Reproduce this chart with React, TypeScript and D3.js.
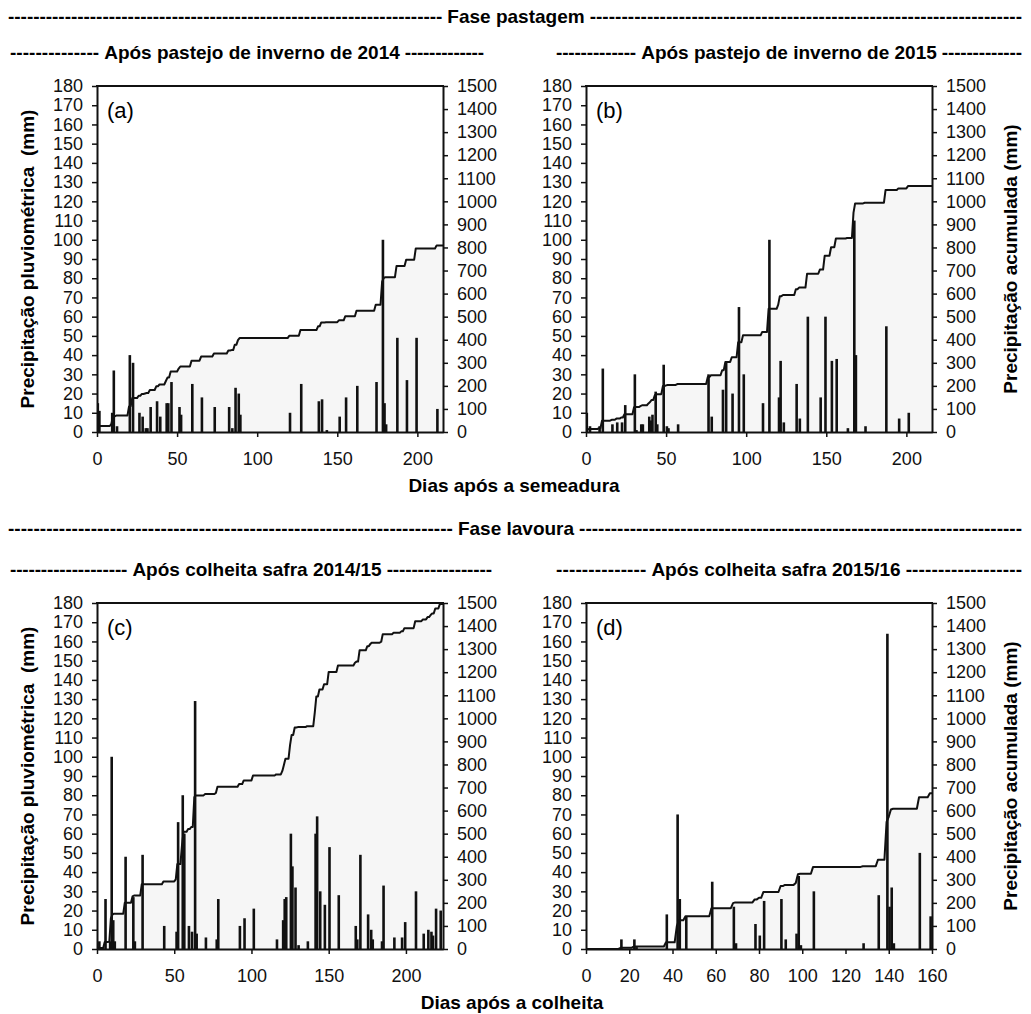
import React, { useEffect, useRef } from "react";
import * as d3 from "d3";

// Daily rainfall events [day, mm] for each period
const rainA: [number, number][] = [
  [0, 15], [1, 11], [9, 10], [10, 32], [12, 3], [20, 40], [22, 36], [26, 10], [28, 8], [30, 2],
  [31, 2], [33, 13], [37, 16], [39, 8], [43, 15], [44, 15], [46, 26], [51, 13], [52, 9], [59, 25],
  [65, 18], [73, 13], [82, 13], [84, 2], [86, 23], [88, 20], [89, 9], [120, 10], [127, 25], [138, 16],
  [140, 17], [143, 1], [151, 8], [155, 18], [162, 24], [174, 26], [178, 100], [179, 15], [180, 4],
  [187, 49], [193, 27], [199, 49], [212, 12],
];

const rainB: [number, number][] = [
  [0, 10], [2, 3], [8, 3], [10, 33], [16, 4], [19, 5], [22, 5], [24, 14], [30, 30], [31, 1],
  [34, 4], [35, 4], [39, 8], [40, 6], [41, 9], [43, 21], [44, 4], [48, 35], [50, 3], [51, 2],
  [57, 4], [76, 30], [78, 8], [85, 22], [87, 36], [91, 20], [95, 65], [98, 30], [110, 15], [114, 100],
  [120, 18], [121, 37], [123, 5], [131, 25], [133, 7], [138, 60], [146, 18], [149, 60], [153, 37],
  [156, 38], [163, 2], [167, 110], [168, 40], [174, 3], [187, 55], [195, 7], [201, 10],
];

const rainC: [number, number][] = [
  [1, 4], [5, 26], [8, 4], [9, 100], [10, 15], [11, 4], [18, 48], [23, 27], [24, 4], [29, 49],
  [43, 12], [51, 9], [52, 66], [55, 80], [56, 60], [59, 12], [61, 9], [63, 129], [64, 8], [70, 6],
  [77, 5], [78, 26], [92, 12], [95, 16], [101, 21], [116, 5], [120, 15], [121, 26], [122, 27],
  [125, 60], [126, 43], [128, 32], [130, 2], [136, 4], [141, 60], [142, 69], [144, 30], [147, 23],
  [150, 53], [156, 28], [167, 12], [168, 5], [170, 49], [175, 18], [177, 10], [178, 5], [184, 4],
  [185, 33], [192, 6], [197, 6], [199, 14], [206, 30], [211, 8], [214, 10], [216, 9], [217, 7],
  [219, 21], [222, 20],
];

const rainD: [number, number][] = [
  [16, 5], [22, 5], [23, 1], [37, 18], [42, 70], [43, 26], [46, 17], [58, 35], [68, 22], [69, 3],
  [78, 13], [80, 7], [82, 25], [90, 26], [92, 5], [97, 8], [98, 38], [99, 2], [105, 30], [128, 3],
  [135, 28], [139, 164], [140, 22], [141, 32], [142, 3], [154, 50], [159, 17],
];

const leftTicks = d3.range(0, 181, 10);
const rightTicks = d3.range(0, 1501, 100);
const ticksLong = [0, 50, 100, 150, 200];
const ticksShort = [0, 20, 40, 60, 80, 100, 120, 140, 160];

const panelLetters = ["(a)", "(b)", "(c)", "(d)"];
const panelTitles = [
  "Após pastejo de inverno de 2014",
  "Após pastejo de inverno de 2015",
  "Após colheita safra 2014/15",
  "Após colheita safra 2015/16",
];
const phaseTitles = ["Fase pastagem", "Fase lavoura"];
const xTitles = ["Dias após a semeadura", "Dias após a colheita"];
const yLeftTitle = "Precipitação pluviométrica  (mm)";
const yRightTitle = "Precipitação acumulada (mm)";

const W = 1031;
const H = 1014;
const PW = 346;
const PH = 346;
const FONT = "'Liberation Sans', Arial, Helvetica, sans-serif";
const fmt = d3.format("d");

type Panel = {
  rain: [number, number][];
  xMax: number;
  xTicks: number[];
  x0: number;
  y0: number;
  letter: string;
  title: string;
  titleCx: number;
  span: [number, number];
  leftTitle: boolean;
  rightTitle: boolean;
};

const panels: Panel[] = [
  { rain: rainA, xMax: 216, xTicks: ticksLong, x0: 97, y0: 86, letter: panelLetters[0], title: panelTitles[0], titleCx: 252, span: [10, 484], leftTitle: true, rightTitle: false },
  { rain: rainB, xMax: 216, xTicks: ticksLong, x0: 586, y0: 86, letter: panelLetters[1], title: panelTitles[1], titleCx: 789, span: [556, 1022], leftTitle: false, rightTitle: true },
  { rain: rainC, xMax: 224, xTicks: ticksLong, x0: 97, y0: 603, letter: panelLetters[2], title: panelTitles[2], titleCx: 257, span: [10, 492], leftTitle: true, rightTitle: false },
  { rain: rainD, xMax: 160, xTicks: ticksShort, x0: 586, y0: 603, letter: panelLetters[3], title: panelTitles[3], titleCx: 776, span: [556, 1022], leftTitle: false, rightTitle: true },
];

function dashedTitle(
  g: d3.Selection<SVGGElement, unknown, null, undefined>,
  text: string,
  cx: number,
  y: number,
  x1: number,
  x2: number,
  size: number
) {
  const t = g
    .append("text")
    .attr("x", cx)
    .attr("y", y)
    .attr("text-anchor", "middle")
    .attr("font-weight", "bold")
    .attr("font-size", size)
    .text(text);
  const w = (t.node() as SVGTextElement).getComputedTextLength();
  const probe = g.append("text").attr("font-weight", "bold").attr("font-size", size).text("-");
  const hw = (probe.node() as SVGTextElement).getComputedTextLength();
  probe.remove();
  const gap = 5;
  const spans: [number, number][] = [
    [x1, cx - w / 2 - gap],
    [cx + w / 2 + gap, x2],
  ];
  spans.forEach(([a, b]) => {
    const len = b - a;
    if (len <= hw) return;
    const n = Math.max(1, Math.round(len / hw));
    g.append("text")
      .attr("x", a)
      .attr("y", y)
      .attr("font-weight", "bold")
      .attr("font-size", size)
      .attr("textLength", len)
      .attr("lengthAdjust", "spacing")
      .text("-".repeat(n));
  });
}

export default function App() {
  const ref = useRef<SVGSVGElement | null>(null);

  useEffect(() => {
    const svg = d3.select(ref.current as SVGSVGElement);
    svg.selectAll("*").remove();
    const root = svg.append("g").attr("font-family", FONT).attr("fill", "#000");

    // phase headers
    dashedTitle(root, phaseTitles[0], 516, 23, 8, 1022, 19);
    dashedTitle(root, phaseTitles[1], 516, 535, 8, 1022, 19);

    panels.forEach((p, i) => {
      const g = root.append("g");
      const x = d3.scaleLinear().domain([0, p.xMax]).range([p.x0, p.x0 + PW]);
      const yL = d3.scaleLinear().domain([0, 180]).range([p.y0 + PH, p.y0]);
      const yR = d3.scaleLinear().domain([0, 1500]).range([p.y0 + PH, p.y0]);

      // daily series and accumulated rainfall
      const days = d3.range(0, p.xMax + 1);
      const byDay = new Map(p.rain);
      const daily = days.map((d) => byDay.get(d) ?? 0);
      const cum = Array.from(d3.cumsum(daily));

      const clipId = `clip-${i}`;
      g.append("clipPath")
        .attr("id", clipId)
        .append("rect")
        .attr("x", p.x0)
        .attr("y", p.y0)
        .attr("width", PW)
        .attr("height", PH);

      const plot = g.append("g").attr("clip-path", `url(#${clipId})`);

      const area = d3
        .area<number>()
        .x((_, k) => x(days[k]))
        .y0(yR(0))
        .y1((v) => yR(Math.min(v, 1500)));
      const line = d3
        .line<number>()
        .x((_, k) => x(days[k]))
        .y((v) => yR(Math.min(v, 1500)));

      plot.append("path").attr("d", area(cum) as string).attr("fill", "#f6f6f6");

      const bw = 2.6;
      plot
        .selectAll("rect.bar")
        .data(p.rain)
        .join("rect")
        .attr("class", "bar")
        .attr("x", (d) => x(d[0]) - bw / 2 + 0.8)
        .attr("width", bw)
        .attr("y", (d) => yL(d[1]))
        .attr("height", (d) => yL(0) - yL(d[1]))
        .attr("fill", "#111");

      plot
        .append("path")
        .attr("d", line(cum) as string)
        .attr("fill", "none")
        .attr("stroke", "#111")
        .attr("stroke-width", 2)
        .attr("stroke-linejoin", "round");

      // axes
      const styleAxis = (a: d3.Selection<SVGGElement, unknown, null, undefined>) => {
        a.select(".domain").attr("stroke", "#111").attr("stroke-width", 2);
        a.selectAll(".tick line").attr("stroke", "#111").attr("stroke-width", 1.5);
        a.selectAll(".tick text").attr("font-size", 18).attr("fill", "#111").attr("font-family", FONT);
      };

      const gl = g
        .append("g")
        .attr("transform", `translate(${p.x0},0)`)
        .call(d3.axisLeft(yL).tickValues(leftTicks).tickFormat(fmt).tickSize(5).tickSizeOuter(0).tickPadding(9));
      styleAxis(gl);

      const gr = g
        .append("g")
        .attr("transform", `translate(${p.x0 + PW},0)`)
        .call(d3.axisRight(yR).tickValues(rightTicks).tickFormat(fmt).tickSize(5).tickSizeOuter(0).tickPadding(9));
      styleAxis(gr);

      const gb = g
        .append("g")
        .attr("transform", `translate(0,${p.y0 + PH})`)
        .call(d3.axisBottom(x).tickValues(p.xTicks).tickFormat(fmt).tickSize(5).tickSizeOuter(0).tickPadding(15));
      styleAxis(gb);

      g.append("line")
        .attr("x1", p.x0 - 1)
        .attr("x2", p.x0 + PW + 1)
        .attr("y1", p.y0)
        .attr("y2", p.y0)
        .attr("stroke", "#111")
        .attr("stroke-width", 2);

      // panel letter
      g.append("text")
        .attr("x", p.x0 + 10)
        .attr("y", p.y0 + 32)
        .attr("font-size", 22)
        .text(p.letter);

      // panel title with dashes
      dashedTitle(g, p.title, p.titleCx, p.y0 - 27, p.span[0], p.span[1], 19);

      const cy = p.y0 + PH / 2;
      if (p.leftTitle) {
        g.append("text")
          .attr("transform", `translate(34,${cy}) rotate(-90)`)
          .attr("text-anchor", "middle")
          .attr("font-weight", "bold")
          .attr("font-size", 19)
          .style("white-space", "pre")
          .text(yLeftTitle);
      }
      if (p.rightTitle) {
        g.append("text")
          .attr("transform", `translate(1017,${cy}) rotate(-90)`)
          .attr("text-anchor", "middle")
          .attr("font-weight", "bold")
          .attr("font-size", 19)
          .text(yRightTitle);
      }
    });

    // x-axis titles shared by each row
    root
      .append("text")
      .attr("x", 514)
      .attr("y", 86 + PH + 60)
      .attr("text-anchor", "middle")
      .attr("font-weight", "bold")
      .attr("font-size", 19)
      .text(xTitles[0]);
    root
      .append("text")
      .attr("x", 512)
      .attr("y", 603 + PH + 60)
      .attr("text-anchor", "middle")
      .attr("font-weight", "bold")
      .attr("font-size", 19)
      .text(xTitles[1]);
  }, []);

  return (
    <svg
      ref={ref}
      width={W}
      height={H}
      viewBox={`0 0 ${W} ${H}`}
      style={{ position: "absolute", left: 0, top: 0, background: "#fff", display: "block" }}
    />
  );
}
